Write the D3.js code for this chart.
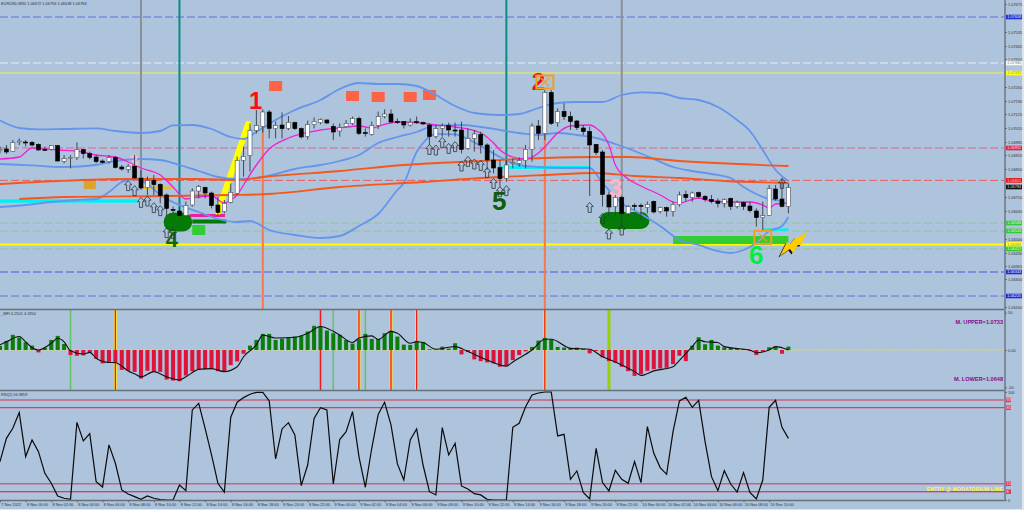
<!DOCTYPE html>
<html>
<head>
    <meta charset="utf-8">
    <title>EURUSD M30</title>
    <style>
        html, body { margin: 0; padding: 0; background: #dfe5ec; overflow: hidden; }
        svg { display: block; }
        text { font-family: "Liberation Sans", sans-serif; }
        .tick text { fill: #2b3440; font-size: 3.9px; }
        .tick line { stroke: #4c5764; stroke-width: 0.7px; }
    </style>
</head>
<body>
    <script src="https://d3js.org/d3.v7.min.js"></script>
    <script>
        // prices are in points (1e-5), one entry per M30 bar
        var opens = [106942,106950,106938,106985,106985,106983,106973,106948,106948,106967,
            106888,106903,106907,106947,106927,106910,106890,106887,106908,106860,
            106848,106865,106805,106757,106793,106773,106720,106648,106640,106618,
            106670,106740,106758,106730,106670,106637,106683,106728,106893,106918,
            107043,107063,107135,107052,107070,107052,107082,107052,107012,107072,
            107082,107095,107063,107040,
            107062,107078,107103,107032,107023,107068,107112,107125,107087,107087,107070,107087,107082,
            107070,107012,107053,107067,107045,107045,106952,107003,107023,106970,106895,106857,106803,
            106878,106878,106892,106948,107065,107028,107233,107082,107138,107112,107090,107055,107038,
            106973,106935,106720,106662,106708,106627,106667,106668,106658,106688,106637,106657,106638,106672,
            106723,106707,106732,106713,106698,106690,106678,106703,106663,106682,106665,106640,106607,106618,106750,106700,106663];
        var highs = [106962,106970,106995,107003,106995,106990,106978,106962,106970,106970,
            106920,106920,106983,106950,106937,106920,106898,106920,106915,106870,
            106875,106920,106845,106812,106820,106778,106728,106662,106662,106687,
            106753,106770,106762,106737,106712,106695,106778,106912,106962,107078,
            107145,107148,107145,107087,107133,107115,107087,107057,107092,107108,
            107103,107098,107078,107078,
            107095,107112,107112,107053,107087,107137,107148,107148,107103,107090,107103,107112,107087,
            107078,107070,107078,107082,107082,107087,107053,107045,107037,106978,106945,106895,106895,
            106903,106908,106970,107078,107095,107245,107245,107153,107178,107137,107095,107070,107062,
            106975,106945,106737,106720,106715,106670,106678,106678,106687,106692,106662,106662,106687,106737,
            106742,106737,106737,106720,106720,106703,106703,106707,106692,106687,106687,106653,106687,106770,106770,106803,106778];
        var lows = [106928,106925,106935,106970,106962,106962,106942,106942,106942,106887,
            106878,106853,106895,106903,106898,106878,106878,106878,106853,106842,
            106832,106802,106745,106720,106720,106678,106612,106628,106612,106612,
            106662,106703,106703,106653,106612,106628,106678,106720,106812,106837,
            107028,107032,107003,107003,107003,107045,107045,107003,106998,107053,
            107073,107075,106995,107012,
            107058,107070,107020,107012,107017,107050,107103,107082,107075,107053,107062,107075,107070,
            106970,107003,107012,107012,107012,106928,106945,106937,106928,106845,106828,106762,106787,
            106853,106862,106853,106887,106995,106995,107070,107062,107095,107045,107045,107020,106715,
            106920,106662,106612,106612,106562,106612,106645,106595,106628,106628,106628,106612,106612,106662,
            106687,106687,106703,106687,106678,106658,106658,106645,106653,106645,106633,106562,106545,106615,106692,106658,106628];
        var closes = [106948,106935,106983,106990,106982,106970,106945,106947,106967,106890,
            106902,106908,106947,106927,106908,106887,106883,106908,106858,106850,
            106863,106805,106755,106792,106772,106717,106653,106643,106617,106668,
            106740,106762,106730,106667,106633,106678,106733,106893,106913,107043,
            107067,107135,107053,107067,107052,107083,107052,107010,107073,107088,
            107097,107080,107035,107057,
            107078,107103,107028,107028,107067,107112,107125,107085,107083,107070,107083,107082,107075,
            107012,107052,107065,107045,107042,106948,107003,107025,106970,106895,106855,106802,106870,
            106882,106892,106948,107065,107028,107233,107078,107138,107112,107087,107057,107037,106970,
            106932,106723,106660,106708,106627,106662,106663,106665,106673,106635,106658,106640,106673,106720,
            106707,106730,106712,106698,106687,106678,106698,106663,106683,106663,106642,106607,106617,106752,106700,106663,106757];

        // indicator lines, [bar, price]
        var bbUpper = [[0,107092],[3,107055],[6,107048],[10,107050],[15,107053],[18,107040],[22,107030],[25,107040],[27,107068],[30,107070],[33,107050],[36,107010],[38,107000],[40,107035],[43,107095],[46,107145],[50,107195],[53,107250],[56,107280],[59,107275],[62,107275],[65,107265],[68,107220],[71,107165],[74,107130],[78,107120],[81,107125],[84,107155],[87,107180],[90,107185],[94,107185],[97,107220],[100,107233],[103,107230],[106,107205],[109,107195],[112,107160],[115,107095],[117,107040],[119,106945],[121,106845],[123,106790]];
        var bbMiddle = [[0,106875],[5,106868],[10,106860],[15,106870],[18,106890],[22,106900],[25,106895],[28,106870],[31,106840],[34,106810],[37,106800],[40,106805],[43,106825],[46,106850],[50,106870],[53,106890],[56,106920],[59,106980],[62,107010],[65,107035],[68,107068],[72,107070],[75,107060],[78,107045],[81,107030],[84,107020],[87,107030],[90,107020],[93,107005],[96,106975],[99,106940],[102,106900],[105,106860],[108,106840],[111,106825],[114,106805],[116,106760],[118,106725],[120,106700],[122,106690]];
        var bbLower = [[0,106660],[4,106670],[8,106685],[12,106695],[15,106700],[17,106735],[19,106785],[21,106800],[23,106775],[25,106720],[28,106670],[31,106635],[34,106600],[37,106585],[39,106590],[42,106545],[46,106520],[50,106505],[53,106515],[56,106565],[59,106625],[62,106745],[63,106780],[65,106935],[66,106980],[68,107025],[71,107023],[73,107000],[75,106965],[78,106910],[81,106870],[84,106860],[88,106855],[92,106855],[94,106780],[97,106680],[100,106625],[103,106565],[106,106495],[109,106470],[112,106440],[114,106430],[116,106445],[118,106480],[120,106540],[122,106565],[123,106610]];
        var maFast = [[0,106900],[3,106910],[5,106955],[9,106945],[12,106940],[15,106920],[18,106910],[20,106885],[22,106855],[25,106820],[27,106760],[29,106700],[31,106710],[33,106715],[35,106680],[36,106695],[37,106720],[38,106770],[40,106870],[42,106950],[45,107005],[50,107045],[53,107055],[56,107065],[58,107055],[60,107073],[62,107085],[66,107080],[68,107070],[71,107060],[75,107030],[77,106980],[78,106945],[80,106910],[82,106900],[84,106930],[85,106960],[87,107030],[89,107065],[92,107070],[93,107055],[95,106970],[96,106870],[98,106800],[100,106765],[103,106720],[105,106685],[106,106680],[109,106705],[111,106690],[114,106685],[117,106685],[119,106670],[120,106655],[121,106675],[123,106680]];
        var maSlowUpper = [[0,106775],[9,106790],[20,106800],[31,106800],[37,106795],[41,106810],[53,106840],[63,106870],[75,106890],[85,106905],[93,106910],[98,106910],[106,106890],[123,106865]];
        var maSlowLower = [[3,106700],[10,106710],[26,106715],[36,106720],[42,106725],[53,106760],[66,106785],[75,106805],[85,106820],[93,106830],[99,106815],[106,106805],[113,106790],[123,106780]];

        // sub window 1, histogram per bar and smoothed line
        var histValues = [5.4,12.2,20.3,16.7,10.4,5.9,-3.2,2.7,13.5,18.9,
            8.1,-6.8,-7.7,-7.2,-3.2,-11.7,-18,-16.7,-17.1,-26.6,
            -27.9,-29.3,-38.3,-27.9,-29.3,-29.3,-39.6,-41,-41.9,-34.2,
            -28.4,-25.7,-25.7,-25.7,-28.4,-29.3,-20.3,-15.3,-5,5.9,
            13.5,21.6,21.6,13.5,15.3,16.7,18,18.9,24.8,32.4,
            31.5,26.1,22.5,20.3,
            13.5,8.6,14.4,21.6,14.9,14.9,22.5,25.7,18,7.2,6.8,12.2,10.8,
            0.9,0.5,4.5,1.8,9,-5.9,-2.7,-12.6,-14.9,-16.7,-18,-22.5,-21.2,
            -13.5,-6.8,-1.8,4.1,12.6,16.2,13.5,4.1,3.2,2.7,3.2,1.4,-4.5,
            -1.4,-9.9,-14.9,-17.1,-22.5,-28.4,-34.7,-32.4,-27.9,-25.7,-24.8,-23.9,-18.9,-7.7,
            -14.9,5.9,17.1,7.7,13.5,5.9,3.6,2.7,1.8,1.4,-1.4,-6.8,-2.3,3.6,4.5,-5,4.5];
        var histLine = [[0,6.8],[1,11],[3,18],[4,11],[5,3],[6,0],[8,9],[9,15.8],[10,11],[11,-1],[13,-5.4],[14,-3.2],[15,-11],[17,-16.7],[18,-17],[20,-28],[21,-32],[22,-36],[24,-29],[26,-36],[28,-40],[29,-36],[31,-26],[33,-25],[35,-29],[37,-22.5],[38,-9],[40,6.8],[41,20],[43,16],[46,17],[48,22.5],[50,31.5],[52,25],[53,20],[55,10],[56,16],[58,19],[59,14],[61,25],[62,22.5],[64,9],[65,11],[66,10],[68,1],[70,3.6],[71,4.5],[73,-2],[76,-13.5],[79,-21.6],[80,-16],[83,0],[85,14.4],[86,14.4],[89,2.2],[92,1],[94,-9],[96,-16],[99,-29],[100,-34],[102,-28],[105,-22.5],[106,-14],[108,4.5],[109,13.5],[110,11],[112,10],[113,4.5],[115,2],[117,0],[118,-3.6],[120,0],[121,4.5],[123,0]];

        // sub window 2
        var rsiValues = [35.5,57.1,66.4,80.9,40.2,55.6,44.8,24.7,15.5,3.7,
            1.6,0.6,71.9,54.7,61.4,17,12,51,34,9.3,
            5.6,3.1,0.6,3.7,1.6,0.3,0,0,13.9,8.7,
            83.4,89.5,66.4,41.7,15.5,7.4,76.6,90.5,94.8,97.9,
            99.7,99.7,91.7,38,65.8,71.6,60.2,13.3,32.4,75.6,
            85.5,83.4,14.8,56,
            63.3,81.8,40.2,11.8,47.9,79.3,90.5,69.5,33.4,18.5,55.6,65.8,32.4,
            7.7,4.7,67,41.7,52.5,13,10.2,5.9,4.7,0.6,0,0,0,
            67.3,71,86.4,97.2,99.1,100,100,59.3,60.8,19.2,26.9,7.1,1,
            47.9,16.1,8.4,27.5,19.2,15.5,35.5,16.1,67.9,43.2,30,23.8,63.3,91.7,
            95.1,85.8,92.3,54,21.6,8.7,27.2,14.8,7.4,25.3,7.1,1,18.5,85.8,92.3,67.3,57.1];
        var rsiLevels = [92.6, 85.5, 15, 7.7];
        var rsiLevelLabels = ["93", "85", "15", "8"];

        // axis, ticks that sit under a price tag are left out
        var priceTicks = [107675,107535,107465,107400,107260,107190,107125,107055,106985,106920,106850,106710,106640,106500,106430,106365,106300,106160];
        var timeBars = d3.range(0, 121, 4);
        var timeLabels = ["7 Nov 2022",
            "8 Nov 00:00","8 Nov 02:00","8 Nov 04:00","8 Nov 06:00","8 Nov 08:00","8 Nov 10:00","8 Nov 12:00","8 Nov 14:00","8 Nov 16:00","8 Nov 18:00","8 Nov 20:00","8 Nov 22:00",
            "9 Nov 00:00","9 Nov 02:00","9 Nov 04:00","9 Nov 06:00","9 Nov 08:00","9 Nov 10:00","9 Nov 12:00","9 Nov 14:00","9 Nov 16:00","9 Nov 18:00","9 Nov 20:00","9 Nov 22:00",
            "10 Nov 00:00","10 Nov 02:00","10 Nov 04:00","10 Nov 06:00","10 Nov 08:00","10 Nov 10:00"];

        // horizontal levels and their tags on the price axis
        var levelPrices = [107610,107380,107330,106955,106793,106580,106540,106473,106450,106335,106215];
        var levelTexts = ["1.07608","1.07380","1.07332","1.06952","1.06801","1.06586","1.06543","1.06480","1.06451","1.06343","1.06220"];
        var lastPrice = 106760;
        var lastPriceText = "1.06784";

        // chart objects, bars and prices
        var timeMarkerBars = [22, 28, 79, 97];
        var timeMarkerEnds = [106810, 106630, 106860, 106680];
        var entryBars = [41, 85];
        var entryTops = [107070, 107220];
        var histGreenBars = [11, 52, 57];
        var histRedBars = [50];
        var histSignalBars = [18, 56, 61, 65, 85];
        var histLimeBars = [95];
        var arrowBars = [20,21,22,23,24,25,26,27,67,68,69,70,71,72,73,74,75,76,77,78,79,92,94,95,97,122];
        var arrowPrices = [106767,106742,106683,106690,106657,106642,106532,106528,106948,106945,106983,106953,106962,106865,106888,106875,106868,106832,106778,106737,106742,106658,106603,106525,106545,106778];
        var redSquares = [[43,107265],[55,107215],[59,107210],[64,107210],[67,107220]];
        var goldSquare = [14,106770];
        var greenSquare = [31,106545];
        var cyanRuns = [[0,21.4,106690],[78,92,106857],[119,123,106547]];
        var goldRun = [22.3,27,106757];
        var pinkRun = [29.6,35.1,106617];
        var darkGreenRun = [30,35.3,106587];
        var limeRun = [105,123,106495];
        var blobRuns = [[27,28.5,106585],[94.9,100,106592]];
        var swingBars = [34,38.7];
        var swingPrices = [106635,107075];
        var crossBoxes = [[85,107285],[119,106508]];
        var bolt = [123.7,106470];
        var digitBars = [39.9,84,20.8,96,26.8,77.9,118];
        var digitPrices = [107150,107245,106860,106710,106460,106645,106375];
        var digitTexts = ["1","2","3","3","4","5","6"];

        var width = 1024,
            height = 510,
            axisX = 1005;

        var svg = d3.select("body").append("svg")
            .attr("width", width)
            .attr("height", height);

        var x = d3.scaleLinear().domain([0, 123]).range([0, 788.4]);
        var y = d3.scaleLinear().domain([107695, 106160]).range([0, 307]);
        var yHist = d3.scaleLinear().domain([50, -50]).range([312.7, 387.3]);
        var yRsi = d3.scaleLinear().domain([0, 100]).range([500, 392]);

        svg.append("rect").attr("width", 1022).attr("height", 509).attr("fill", "#aec3dc");

        function drawLine(points, scaleY, color, lineWidth, parent) {
            var line = d3.line()
                .x(function (d) { return x(d[0]); })
                .y(function (d) { return scaleY(d[1]); })
                .curve(d3.curveMonotoneX);
            return (parent || svg).append("path")
                .attr("d", line(points))
                .attr("fill", "none")
                .attr("stroke", color)
                .attr("stroke-width", lineWidth);
        }

        function drawRun(run, color, thickness, cap) {
            svg.append("line")
                .attr("x1", x(run[0])).attr("x2", x(run[1]))
                .attr("y1", y(run[2])).attr("y2", y(run[2]))
                .attr("stroke", color)
                .attr("stroke-width", thickness)
                .attr("stroke-linecap", cap || "butt");
        }

        function drawSquare(pos, color, w, h) {
            svg.append("rect")
                .attr("x", x(pos[0]) - w / 2)
                .attr("y", y(pos[1]) - h / 2)
                .attr("width", w).attr("height", h)
                .attr("fill", color);
        }

        // levels
        var levelColors = ["#5f70dc", "#e6edf5", "#f4f43c", "#d9688a", "#ea5f5f", "#8cc79a", "#8cc79a", "#ffff00", "#8cc79a", "#4a5ae0", "#5f70e0"];
        var tagColors = ["#1f2fd0", "#f4f6f8", "#ffff22", "#e0204c", "#f01010", "#35c935", "#35c935", "#ffff22", "#35c935", "#1f2fd0", "#1f2fd0"];
        var tagTextColors = ["#e8ecff", "#888888", "#a0a020", "#ffe0e6", "#ffd0d0", "#d6ffd6", "#d6ffd6", "#a0a020", "#d6ffd6", "#e8ecff", "#e8ecff"];
        svg.selectAll(".level")
            .data(levelPrices)
            .enter().append("line")
            .attr("class", "level")
            .attr("x1", 0).attr("x2", axisX)
            .attr("y1", function (d) { return y(d); })
            .attr("y2", function (d) { return y(d); })
            .attr("stroke", function (d, i) { return levelColors[i]; })
            .attr("stroke-width", function (d, i) { return i == 7 ? 2 : 1; })
            .attr("stroke-dasharray", function (d, i) { return i == 2 || i == 7 ? null : "8,3"; });

        // vertical markers
        var markerColors = ["#8b8f96", "#0c8a8a", "#0c8a8a", "#8b8f96"];
        timeMarkerBars.forEach(function (bar, i) {
            svg.append("line")
                .attr("x1", x(bar)).attr("x2", x(bar))
                .attr("y1", 0).attr("y2", y(timeMarkerEnds[i]))
                .attr("stroke", markerColors[i])
                .attr("stroke-width", 2);
        });
        entryBars.forEach(function (bar, i) {
            svg.append("line")
                .attr("x1", x(bar)).attr("x2", x(bar))
                .attr("y1", y(entryTops[i])).attr("y2", 309)
                .attr("stroke", "#f5784f")
                .attr("stroke-width", 2);
        });

        // objects under the candles
        drawSquare(goldSquare, "#daa52c", 12, 8);
        drawSquare(greenSquare, "#32cd32", 13, 10);
        redSquares.forEach(function (s) { drawSquare(s, "#ff6347", 13, 10); });
        drawRun(cyanRuns[0], "#00f0f5", 3.5);
        drawRun(cyanRuns[1], "#00f0f5", 3);
        drawRun(cyanRuns[2], "#00f0f5", 2.5);
        drawRun(goldRun, "#eebb22", 2.5);
        drawRun(pinkRun, "#f0209a", 3);
        drawRun(limeRun, "#32cd32", 8);
        drawRun(darkGreenRun, "#067a06", 4);
        drawRun(blobRuns[0], "#067a06", 19, "round");
        drawRun(blobRuns[1], "#067a06", 17, "round");

        svg.append("line")
            .attr("x1", x(swingBars[0])).attr("x2", x(swingBars[1]))
            .attr("y1", y(swingPrices[0])).attr("y2", y(swingPrices[1]))
            .attr("stroke", "#ffff00")
            .attr("stroke-width", 6)
            .attr("stroke-linecap", "round");

        // indicator lines
        drawLine(bbUpper, y, "#6495ed", 1.8);
        drawLine(bbMiddle, y, "#6495ed", 1.8);
        drawLine(bbLower, y, "#6495ed", 1.8);
        drawLine(maSlowUpper, y, "#f4581c", 1.8);
        drawLine(maSlowLower, y, "#f4581c", 1.8);
        drawLine(maFast, y, "#f020d8", 1.3);

        // digits
        var digitColors = ["#ff0d0d", "#f01010", "#ffb6c8", "#ffb6c8", "#0a6a0a", "#0a5f0a", "#00ee44"];
        var digitSizes = [24, 24, 17, 25, 22, 26, 26];
        digitTexts.forEach(function (t, i) {
            svg.append("text")
                .attr("x", x(digitBars[i])).attr("y", y(digitPrices[i]))
                .attr("text-anchor", "middle")
                .attr("font-weight", "bold")
                .attr("font-size", digitSizes[i])
                .attr("fill", digitColors[i])
                .text(t);
        });

        // candles
        var bars = opens.map(function (o, i) {
            return { i: i, open: o, high: highs[i], low: lows[i], close: closes[i] };
        });
        var candle = svg.append("g").selectAll("g")
            .data(bars)
            .enter().append("g");
        candle.append("line")
            .attr("x1", function (d) { return x(d.i); })
            .attr("x2", function (d) { return x(d.i); })
            .attr("y1", function (d) { return y(d.high); })
            .attr("y2", function (d) { return y(d.low); })
            .attr("stroke", "#333b44")
            .attr("stroke-width", 0.9);
        candle.append("rect")
            .attr("x", function (d) { return x(d.i) - 2; })
            .attr("y", function (d) { return y(Math.max(d.open, d.close)); })
            .attr("width", 4)
            .attr("height", function (d) { return Math.max(1, Math.abs(y(d.open) - y(d.close))); })
            .attr("fill", function (d) { return d.close >= d.open ? "#ffffff" : "#000000"; })
            .attr("stroke", function (d) { return d.close >= d.open ? "#4a525c" : "#000000"; })
            .attr("stroke-width", 0.6);

        // up arrows
        svg.selectAll(".arrow")
            .data(arrowBars)
            .enter().append("path")
            .attr("class", "arrow")
            .attr("d", "M0,-5L3.6,-0.8L1.6,-0.8L1.6,5L-1.6,5L-1.6,-0.8L-3.6,-0.8Z")
            .attr("transform", function (d, i) { return "translate(" + x(d) + "," + y(arrowPrices[i]) + ")"; })
            .attr("fill", "none")
            .attr("stroke", "#2c3640")
            .attr("stroke-width", 0.8);

        // orange boxes with a cross
        crossBoxes.forEach(function (b) {
            var g = svg.append("g").attr("transform", "translate(" + x(b[0]) + "," + y(b[1]) + ")");
            g.append("rect")
                .attr("x", -8.5).attr("y", -6.5)
                .attr("width", 17).attr("height", 13)
                .attr("fill", "none")
                .attr("stroke", "#f0a020")
                .attr("stroke-width", 2);
            g.append("path")
                .attr("d", "M-4,-4L4,4M4,-4L-4,4")
                .attr("stroke", "#f0a020")
                .attr("stroke-width", 1.2);
        });

        // lightning
        var boltPath = "M14,-13L6,-8L3,-8L-3,-1L-6,-3L-13,11L-3,4L0,8L5,0L8,0Z";
        var boltGroup = svg.append("g").attr("transform", "translate(" + x(bolt[0]) + "," + y(bolt[1]) + ")");
        boltGroup.append("path").attr("d", boltPath).attr("transform", "translate(-1.5,1.5)").attr("fill", "#111111");
        boltGroup.append("path").attr("d", boltPath).attr("fill", "#ffcc00");

        // histogram window
        svg.append("line")
            .attr("x1", 0).attr("x2", axisX)
            .attr("y1", yHist(0)).attr("y2", yHist(0))
            .attr("stroke", "#e6e640")
            .attr("stroke-width", 1)
            .attr("stroke-dasharray", "1.5,1.5");

        function drawSignal(list, color, w) {
            list.forEach(function (bar) {
                svg.append("line")
                    .attr("x1", x(bar)).attr("x2", x(bar))
                    .attr("y1", 310).attr("y2", 390)
                    .attr("stroke", color)
                    .attr("stroke-width", w);
            });
        }
        drawSignal(histGreenBars, "#62c462", 1.5);
        drawSignal(histRedBars, "#f01818", 1.5);
        drawSignal(histSignalBars, "#f7e040", 3);
        drawSignal(histSignalBars, "#f21a10", 1.3);
        drawSignal(histLimeBars, "#98d000", 3);

        svg.selectAll(".hist")
            .data(histValues)
            .enter().append("rect")
            .attr("class", "hist")
            .attr("x", function (d, i) { return x(i) - 2; })
            .attr("width", 4)
            .attr("y", function (d) { return yHist(Math.max(d, 0)); })
            .attr("height", function (d) { return Math.abs(yHist(d) - yHist(0)); })
            .attr("fill", function (d) { return d >= 0 ? "#0a7d0a" : "#dc143c"; });
        drawLine(histLine, yHist, "#111111", 1.1);

        svg.append("text").attr("x", 1003).attr("y", 323.5)
            .attr("text-anchor", "end").attr("font-size", 5.6).attr("font-weight", "bold").attr("fill", "#8b0a8b")
            .text("M. UPPER=1.0733");
        svg.append("text").attr("x", 1003).attr("y", 380.5)
            .attr("text-anchor", "end").attr("font-size", 5.6).attr("font-weight", "bold").attr("fill", "#8b0a8b")
            .text("M. LOWER=1.0648");

        // rsi window
        var rsiLevelColors = ["#c9617f", "#dc3c60", "#c9617f", "#e0143c"];
        rsiLevels.forEach(function (level, i) {
            svg.append("line")
                .attr("x1", 0).attr("x2", axisX)
                .attr("y1", yRsi(level)).attr("y2", yRsi(level))
                .attr("stroke", rsiLevelColors[i])
                .attr("stroke-width", i % 2 == 0 ? 1.6 : 1.1);
            svg.append("rect")
                .attr("x", 1006).attr("y", yRsi(level) - 2.3)
                .attr("width", 5).attr("height", 4.6)
                .attr("fill", "#dc3c60");
            svg.append("text")
                .attr("x", 1006.5).attr("y", yRsi(level) + 1.4)
                .attr("font-size", 3.9).attr("fill", "#ffe0e6")
                .text(rsiLevelLabels[i]);
        });
        var rsiLine = d3.line()
            .x(function (d, i) { return x(i); })
            .y(function (d) { return yRsi(d); });
        svg.append("path")
            .attr("d", rsiLine(rsiValues))
            .attr("fill", "none")
            .attr("stroke", "#0a0a0a")
            .attr("stroke-width", 1.2);
        svg.append("text").attr("x", 1003).attr("y", 491)
            .attr("text-anchor", "end").attr("font-size", 5).attr("font-weight", "bold").attr("fill", "#ffff22")
            .attr("letter-spacing", 0.2)
            .text("ENTRY @ MORATORIUM LINE");

        // window frames
        [309.5, 390.5, 500.5].forEach(function (py) {
            svg.append("line")
                .attr("x1", 0).attr("x2", axisX)
                .attr("y1", py).attr("y2", py)
                .attr("stroke", "#66717e")
                .attr("stroke-width", 1.6);
        });
        svg.append("line")
            .attr("x1", axisX).attr("x2", axisX)
            .attr("y1", 0).attr("y2", 501)
            .attr("stroke", "#7d8a99")
            .attr("stroke-width", 2);

        // axes
        var priceAxis = d3.axisRight(y)
            .tickValues(priceTicks)
            .tickSize(2)
            .tickPadding(1)
            .tickFormat(function (d) { return (d / 100000).toFixed(5); });
        var priceG = svg.append("g").attr("transform", "translate(" + axisX + ",0)").call(priceAxis);
        priceG.select(".domain").remove();

        var timeAxis = d3.axisBottom(x)
            .tickValues(timeBars)
            .tickSize(2)
            .tickPadding(0.5)
            .tickFormat(function (d, i) { return timeLabels[i]; });
        var timeG = svg.append("g").attr("transform", "translate(0,500.5)").call(timeAxis);
        timeG.select(".domain").remove();
        timeG.selectAll("text").attr("text-anchor", "start").attr("dx", "0.2em");

        var histAxis = d3.axisRight(yHist).tickValues([50, 0, -50]).tickSize(2).tickPadding(1)
            .tickFormat(function (d) { return d == 0 ? "0.00" : d; });
        var histG = svg.append("g").attr("transform", "translate(" + axisX + ",0)").call(histAxis);
        histG.select(".domain").remove();

        var rsiAxis = d3.axisRight(yRsi).tickValues([100, 0]).tickSize(2).tickPadding(1);
        var rsiG = svg.append("g").attr("transform", "translate(" + axisX + ",0)").call(rsiAxis);
        rsiG.select(".domain").remove();

        // price tags, drawn over the tick labels
        var tags = svg.append("g");
        levelPrices.forEach(function (p, i) {
            tags.append("rect")
                .attr("x", 1006).attr("y", y(p) - 2.3)
                .attr("width", 16).attr("height", 4.6)
                .attr("fill", tagColors[i]);
            tags.append("text")
                .attr("x", 1007.2).attr("y", y(p) + 1.4)
                .attr("font-size", 3.9)
                .attr("fill", tagTextColors[i])
                .text(levelTexts[i]);
        });
        tags.append("rect")
            .attr("x", 1006).attr("y", y(lastPrice) - 2.3)
            .attr("width", 16).attr("height", 4.6)
            .attr("fill", "#111111");
        tags.append("text")
            .attr("x", 1007.2).attr("y", y(lastPrice) + 1.4)
            .attr("font-size", 3.9)
            .attr("fill", "#dddddd")
            .text(lastPriceText);

        // window titles
        var titles = ["EURUSD,M30  1.06672 1.06794 1.06638 1.06784", "_MFI 0.2501 4.1950", "RSI(2) 56.9859"];
        var titleY = [4.5, 315, 396];
        titles.forEach(function (t, i) {
            svg.append("text")
                .attr("x", 1).attr("y", titleY[i])
                .attr("font-size", 3.9)
                .attr("fill", "#2b3440")
                .text(t);
        });
    </script>
</body>
</html>
